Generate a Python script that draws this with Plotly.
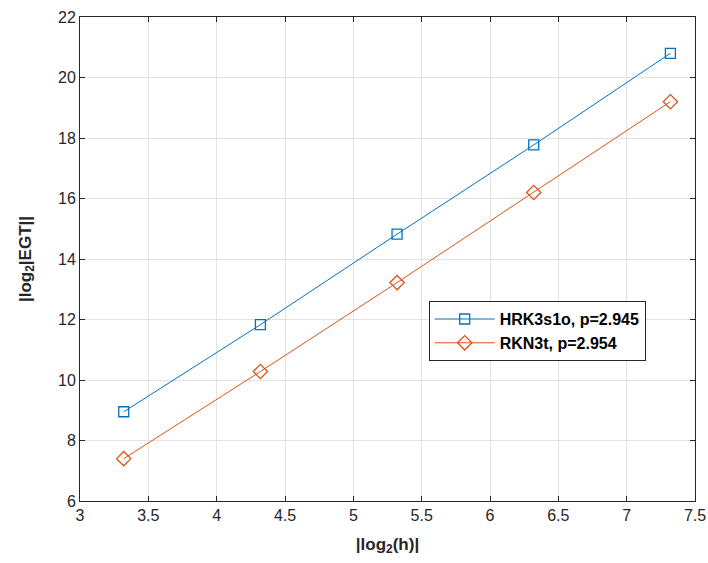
import plotly.graph_objects as go

x_vals = [3.32, 4.32, 5.32, 6.32, 7.32]
hrk_vals = [8.95, 11.83, 14.82, 17.77, 20.80]
rkn_vals = [7.40, 10.28, 13.22, 16.20, 19.20]
names = ["HRK3s1o, p=2.945", "RKN3t, p=2.954"]
x_ticks = [3, 3.5, 4, 4.5, 5, 5.5, 6, 6.5, 7, 7.5]
y_ticks = [6, 8, 10, 12, 14, 16, 18, 20, 22]

FONT = "Liberation Sans, Arial"

fig = go.Figure()
fig.add_trace(go.Scatter(x=x_vals, y=hrk_vals, mode="lines+markers", name=names[0],
                         line=dict(color="#0072BD", width=1),
                         marker=dict(symbol="square-open", size=10, color="#0072BD", line=dict(width=1.3))))
fig.add_trace(go.Scatter(x=x_vals, y=rkn_vals, mode="lines+markers", name=names[1],
                         line=dict(color="#D95319", width=1),
                         marker=dict(symbol="diamond-open", size=11, color="#D95319", line=dict(width=1.3))))

axis_common = dict(showline=True, linecolor="#262626", linewidth=1, mirror="ticks",
                   ticks="inside", ticklen=5, tickcolor="#262626", automargin=False,
                   showgrid=True, gridcolor="#e3e3e3", gridwidth=1, zeroline=False,
                   tickfont=dict(family=FONT, size=16, color="#262626"))

fig.update_layout(
    width=708, height=563,
    margin=dict(l=80, r=13, t=17, b=62),
    paper_bgcolor="white", plot_bgcolor="white",
    xaxis=dict(range=[3, 7.5], tickvals=x_ticks, ticktext=[str(v) for v in x_ticks],
               title=dict(text="<b>|log<sub>2</sub>(h)|</b>", font=dict(family=FONT, size=17, color="#262626"), standoff=14),
               **axis_common),
    yaxis=dict(range=[6, 22], tickvals=y_ticks,
               title=dict(text="<b>|log<sub>2</sub>|EGT||</b>", font=dict(family=FONT, size=17, color="#262626"), standoff=22),
               **axis_common),
    legend=dict(x=0.567, y=0.413, xanchor="left", yanchor="top",
                bgcolor="white", bordercolor="#262626", borderwidth=1,
                font=dict(family=FONT, size=16, color="#000000", weight="bold"),
                itemwidth=60, tracegroupgap=0),
    showlegend=True,
)

fig.write_html("out.html")
